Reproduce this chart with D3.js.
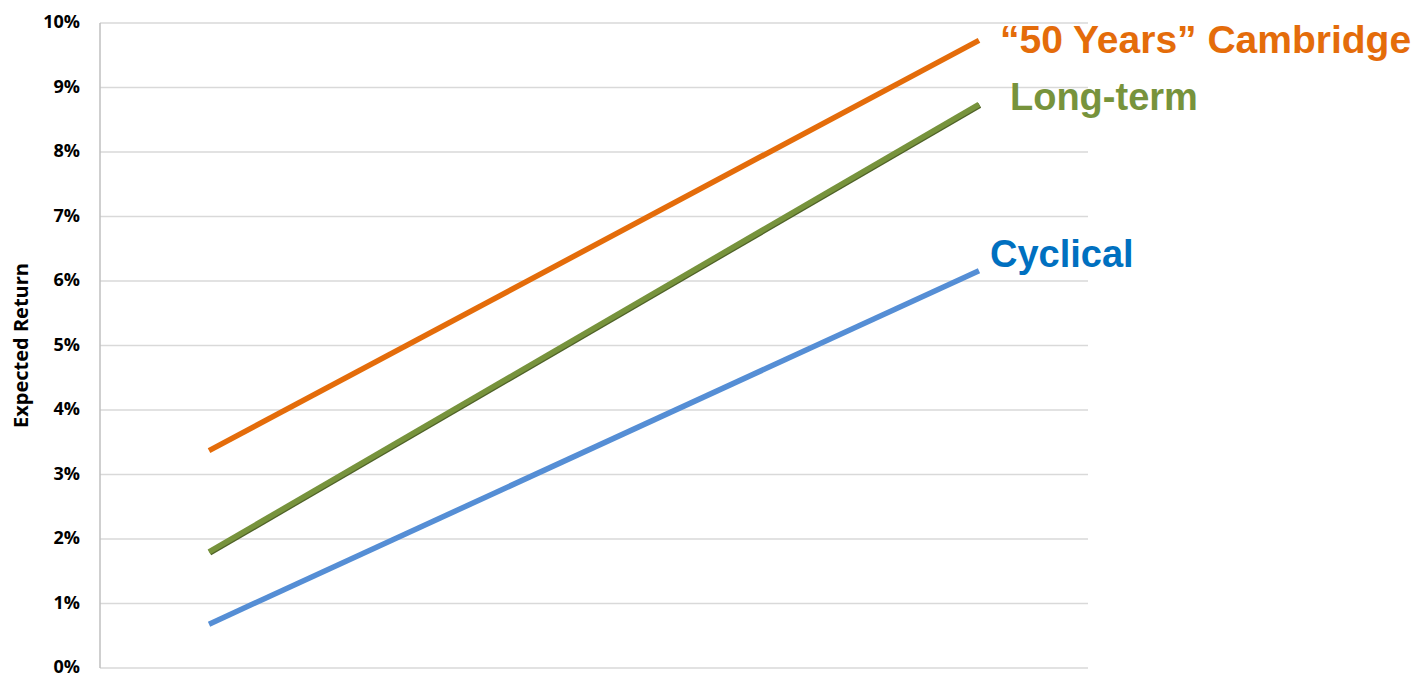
<!DOCTYPE html>
<html>
<head>
<meta charset="utf-8">
<script src="https://cdn.jsdelivr.net/npm/d3@7"></script>
<style>
  html, body { margin: 0; padding: 0; background: #ffffff; }
  svg { display: block; }
</style>
</head>
<body>
<div class="display"></div>
<script>
const WIDTH = 1418;
const HEIGHT = 676;
const PLOT_LEFT = 100;
const PLOT_RIGHT = 1088;
const PLOT_TOP = 23;
const PLOT_BOTTOM = 668;

// data (percent)
const CATEGORIES = ['Now', 'Later'];
const CAMBRIDGE = [3.37, 9.73];
const LONG_TERM = [1.80, 8.74];
const CYCLICAL = [0.68, 6.16];
const Y_TICKS = [0, 1, 2, 3, 4, 5, 6, 7, 8, 9, 10];
const SERIES_NAMES = ['\u201C50 Years\u201D Cambridge', 'Long-term', 'Cyclical'];

const Y_TITLE = 'Expected Return';

// styles, kept apart from the values
const SERIES_STYLE = [
  { line: '#E46C0A', text: '#E46C0A', dx: 21, dy: 13, size: 39, shadow: false },
  { line: '#77933C', text: '#77933C', dx: 31, dy: 6, size: 38, shadow: true },
  { line: '#558ED5', text: '#0070C0', dx: 11, dy: -4, size: 38, shadow: false }
];

const svg = d3.select('.display')
  .append('svg')
  .attr('width', WIDTH)
  .attr('height', HEIGHT);

const x = d3.scalePoint()
  .domain(CATEGORIES)
  .range([PLOT_LEFT, PLOT_RIGHT])
  .padding(0.1416);

const y = d3.scaleLinear()
  .domain([0, 10])
  .range([PLOT_BOTTOM, PLOT_TOP]);

// grid lines
svg.append('g')
  .attr('class', 'grid')
  .selectAll('line')
  .data(Y_TICKS)
  .enter()
  .append('line')
  .attr('x1', PLOT_LEFT)
  .attr('x2', PLOT_RIGHT)
  .attr('y1', d => y(d))
  .attr('y2', d => y(d))
  .attr('stroke', '#D9D9D9')
  .attr('stroke-width', 1.5);

// y axis
const yAxis = svg.append('g')
  .attr('transform', `translate(${PLOT_LEFT}, 0)`)
  .call(d3.axisLeft(y).tickValues(Y_TICKS).tickFormat(d => d + '%').tickSize(0).tickPadding(20));

yAxis.select('.domain')
  .attr('stroke', '#BFBFBF')
  .attr('stroke-width', 1.5)
  .attr('d', `M0,${PLOT_TOP}V${PLOT_BOTTOM}`);

yAxis.selectAll('text')
  .attr('dy', '0.25em')
  .style('font-family', '"Open Sans", sans-serif')
  .style('font-weight', 'bold')
  .style('font-size', '18px')
  .attr('fill', '#000000');

svg.append('text')
  .attr('transform', `translate(28, ${(PLOT_TOP + PLOT_BOTTOM) / 2}) rotate(-90)`)
  .attr('text-anchor', 'middle')
  .style('font-family', '"Open Sans", sans-serif')
  .style('font-weight', 'bold')
  .style('font-size', '20px')
  .text(Y_TITLE);

// lines
const allSeries = [CAMBRIDGE, LONG_TERM, CYCLICAL];
const line = d3.line()
  .x((d, i) => x(CATEGORIES[i]))
  .y(d => y(d));

allSeries.forEach((values, i) => {
  const style = SERIES_STYLE[i];
  if (style.shadow) {
    svg.append('path')
      .attr('d', line(values))
      .attr('transform', 'translate(0.8, 1)')
      .attr('fill', 'none')
      .attr('stroke', '#4F6228')
      .attr('stroke-width', 5.5);
  }
  svg.append('path')
    .attr('d', line(values))
    .attr('fill', 'none')
    .attr('stroke', style.line)
    .attr('stroke-width', 5.5);

  const last = values.length - 1;
  svg.append('text')
    .attr('x', x(CATEGORIES[last]) + style.dx)
    .attr('y', y(values[last]) + style.dy)
    .style('font-family', '"Liberation Sans", Arial, sans-serif')
    .style('font-weight', 'bold')
    .style('font-size', style.size + 'px')
    .attr('fill', style.text)
    .text(SERIES_NAMES[i]);
});
</script>
</body>
</html>
